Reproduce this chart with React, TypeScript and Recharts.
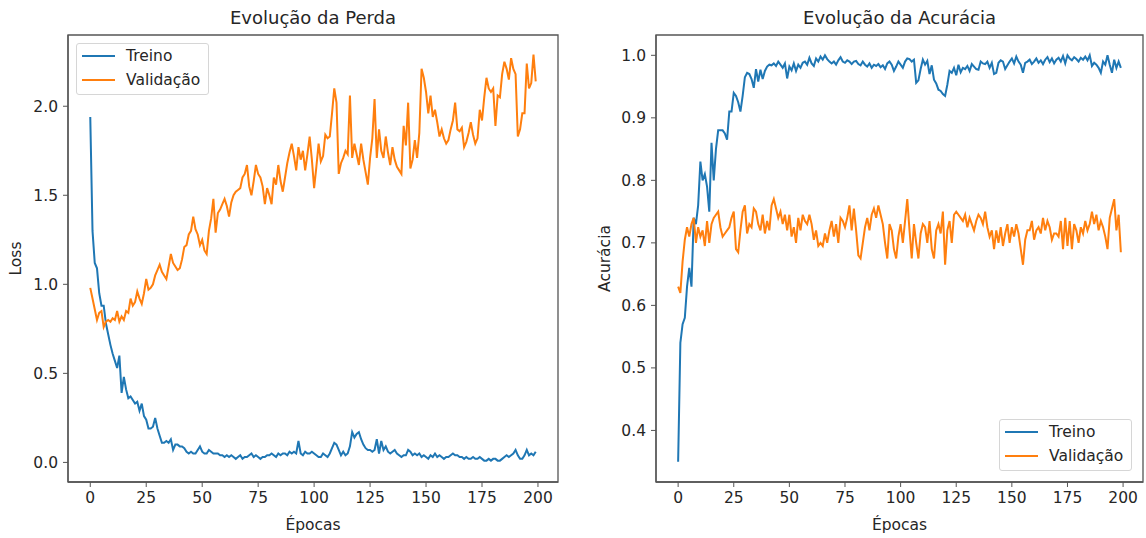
import React from 'react';
import { LineChart, Line, XAxis, YAxis, Legend, ReferenceArea } from 'recharts';

const FONT = '"DejaVu Sans", sans-serif';
const TEXT = '#262626';
const SPINE = '#555555';
const BLUE = '#1f77b4';
const ORANGE = '#ff7f0e';
const FS = 15.5;

const seriesNames = ['Treino', 'Validação'];
const chartTitles = ['Evolução da Perda', 'Evolução da Acurácia'];
const axisLabels = { x: 'Épocas', loss: 'Loss', acc: 'Acurácia' };

const xTicks = [0, 25, 50, 75, 100, 125, 150, 175, 200];
const lossTicks = [0, 0.5, 1.0, 1.5, 2.0];
const accTicks = [0.4, 0.5, 0.6, 0.7, 0.8, 0.9, 1.0];

const lossTrain = [
  1.94, 1.30, 1.12, 1.09, 0.95, 0.88, 0.88, 0.78, 0.72, 0.66,
  0.61, 0.57, 0.53, 0.60, 0.39, 0.48, 0.41, 0.36, 0.37, 0.35,
  0.33, 0.34, 0.29, 0.33, 0.26, 0.24, 0.19, 0.19, 0.20, 0.25,
  0.19, 0.15, 0.11, 0.11, 0.12, 0.11, 0.13, 0.07, 0.10, 0.10,
  0.09, 0.09, 0.08, 0.06, 0.05, 0.06, 0.05, 0.05, 0.07, 0.09,
  0.06, 0.05, 0.05, 0.07, 0.06, 0.05, 0.05, 0.05, 0.04, 0.04,
  0.03, 0.04, 0.03, 0.04, 0.03, 0.02, 0.03, 0.04, 0.02, 0.03,
  0.03, 0.04, 0.05, 0.03, 0.04, 0.03, 0.02, 0.03, 0.03, 0.04,
  0.04, 0.05, 0.04, 0.03, 0.05, 0.04, 0.05, 0.05, 0.04, 0.06,
  0.05, 0.06, 0.05, 0.12, 0.05, 0.04, 0.06, 0.05, 0.05, 0.06,
  0.05, 0.04, 0.03, 0.03, 0.05, 0.04, 0.03, 0.05, 0.08, 0.11,
  0.10, 0.07, 0.04, 0.06, 0.04, 0.05, 0.09, 0.17, 0.14, 0.16,
  0.17, 0.13, 0.10, 0.08, 0.07, 0.07, 0.06, 0.07, 0.13, 0.05,
  0.12, 0.07, 0.09, 0.06, 0.05, 0.06, 0.07, 0.05, 0.04, 0.03,
  0.04, 0.04, 0.07, 0.06, 0.04, 0.05, 0.04, 0.05, 0.03, 0.04,
  0.03, 0.02, 0.04, 0.03, 0.05, 0.03, 0.04, 0.03, 0.02, 0.03,
  0.03, 0.04, 0.05, 0.04, 0.04, 0.03, 0.03, 0.02, 0.03, 0.02,
  0.02, 0.03, 0.02, 0.02, 0.03, 0.02, 0.01, 0.01, 0.02, 0.01,
  0.02, 0.02, 0.01, 0.01, 0.02, 0.03, 0.04, 0.03, 0.04, 0.05,
  0.07, 0.04, 0.02, 0.02, 0.04, 0.07, 0.04, 0.05, 0.04, 0.06,
];

const lossVal = [
  0.98, 0.92, 0.86, 0.80, 0.84, 0.85, 0.76, 0.79, 0.80, 0.79,
  0.81, 0.80, 0.85, 0.79, 0.82, 0.80, 0.85, 0.84, 0.92, 0.88,
  0.90, 0.96, 0.92, 0.89, 0.95, 1.03, 0.97, 0.98, 1.00, 1.05,
  1.08, 1.11, 1.07, 1.05, 1.03, 1.10, 1.17, 1.12, 1.10, 1.08,
  1.09, 1.14, 1.21, 1.22, 1.28, 1.30, 1.38, 1.31, 1.28, 1.22,
  1.25, 1.19, 1.17, 1.30, 1.37, 1.48, 1.29, 1.40, 1.42, 1.45,
  1.48, 1.44, 1.38, 1.46, 1.50, 1.52, 1.53, 1.54, 1.60, 1.62,
  1.67, 1.55, 1.50, 1.58, 1.67, 1.62, 1.60, 1.55, 1.45, 1.54,
  1.50, 1.45, 1.60, 1.56, 1.67, 1.58, 1.52, 1.60, 1.68, 1.74,
  1.79, 1.72, 1.64, 1.77, 1.70, 1.75, 1.64, 1.73, 1.83, 1.70,
  1.54, 1.66, 1.79, 1.69, 1.72, 1.84, 1.82, 1.83, 1.96, 2.10,
  2.02, 1.62, 1.68, 1.71, 1.75, 1.73, 2.06, 1.71, 1.79, 1.73,
  1.67, 1.79, 1.70, 1.63, 1.56, 1.71, 1.82, 2.04, 1.71, 1.87,
  1.75, 1.71, 1.83, 1.74, 1.67, 1.77, 1.70, 1.66, 1.64, 1.62,
  1.89, 1.78, 2.02, 1.65, 1.70, 1.81, 1.71, 1.85, 2.21, 2.16,
  2.08, 1.96, 2.06, 1.94, 1.98, 1.91, 1.83, 1.87, 1.82, 1.79,
  1.81, 1.87, 1.92, 2.02, 1.87, 1.86, 1.88, 1.77, 1.80, 1.85,
  1.91, 1.84, 1.79, 1.82, 1.98, 1.92, 2.05, 2.16, 2.10, 2.08,
  2.10, 1.89, 2.06, 2.05, 2.18, 2.25, 2.21, 2.15, 2.27, 2.21,
  2.18, 1.83, 1.87, 1.96, 1.96, 2.24, 2.10, 2.13, 2.29, 2.14,
];

const accTrain = [
  0.35, 0.54, 0.57, 0.58, 0.63, 0.66, 0.63, 0.74, 0.73, 0.76,
  0.83, 0.80, 0.81, 0.79, 0.75, 0.86, 0.80, 0.85, 0.88, 0.88,
  0.88, 0.875, 0.865, 0.91, 0.91, 0.94, 0.935, 0.925, 0.91, 0.935,
  0.965, 0.972, 0.97, 0.962, 0.948, 0.978, 0.958, 0.977, 0.962, 0.975,
  0.982, 0.985, 0.984, 0.987, 0.983, 0.99, 0.985, 0.98, 0.987, 0.963,
  0.982, 0.976, 0.987, 0.975, 0.985, 0.98, 0.988, 0.99, 0.985, 0.996,
  0.987, 0.983, 0.995, 0.99, 0.998, 0.993, 1.0, 0.994, 0.99, 0.987,
  0.99, 0.985, 0.992, 0.997, 0.99, 0.988, 0.992, 0.99, 0.986, 0.99,
  0.991, 0.986, 0.984, 0.99, 0.985, 0.982, 0.987, 0.98, 0.985, 0.983,
  0.986, 0.981, 0.984, 0.978, 0.987, 0.99, 0.985, 0.975, 0.982, 0.99,
  0.985, 0.98, 0.99, 0.995, 0.994, 0.99, 0.993, 0.956, 0.96, 0.978,
  0.993, 0.985, 0.991, 0.97, 0.984, 0.961, 0.955, 0.945, 0.943, 0.938,
  0.935, 0.953, 0.975, 0.972, 0.98, 0.968, 0.985, 0.973, 0.98, 0.978,
  0.983, 0.975, 0.986, 0.982, 0.978, 0.977, 0.99, 0.987, 0.986, 0.99,
  0.98, 0.988, 0.97, 0.972, 0.988, 0.992, 0.99, 0.978, 0.984, 0.99,
  0.995, 0.987, 0.998, 0.99, 0.985, 0.972, 0.988, 0.99, 0.993, 0.986,
  0.99, 0.995, 0.988, 0.992, 0.986, 0.993, 0.997, 0.989, 0.995, 0.987,
  0.993, 0.996, 0.99, 0.999, 0.987, 1.0, 0.995, 0.992, 0.997, 0.994,
  0.99, 0.996, 0.993, 0.998, 0.992, 1.0, 0.983, 0.988, 0.985, 0.98,
  0.972, 0.99, 0.985, 1.0, 0.985, 0.972, 0.993, 0.98, 0.99, 0.98,
];

const accVal = [
  0.63, 0.62, 0.67, 0.705, 0.725, 0.71, 0.73, 0.74, 0.70, 0.725,
  0.71, 0.72, 0.695, 0.735, 0.70, 0.73, 0.74, 0.745, 0.75, 0.725,
  0.71, 0.715, 0.72, 0.725, 0.74, 0.75, 0.69, 0.685, 0.72, 0.75,
  0.76, 0.715, 0.73, 0.725, 0.755, 0.75, 0.73, 0.72, 0.745, 0.715,
  0.735, 0.72, 0.76, 0.77, 0.755, 0.74, 0.75, 0.73, 0.745, 0.72,
  0.745, 0.71, 0.725, 0.70, 0.74, 0.72, 0.745, 0.735, 0.73, 0.745,
  0.73, 0.705, 0.72, 0.695, 0.70, 0.695, 0.715, 0.70, 0.72, 0.735,
  0.71, 0.73, 0.70, 0.74, 0.735, 0.725, 0.74, 0.76, 0.72, 0.755,
  0.72, 0.68, 0.675, 0.70, 0.725, 0.74, 0.72, 0.745, 0.755, 0.74,
  0.76, 0.745, 0.73, 0.70, 0.675, 0.73, 0.72, 0.69, 0.675, 0.71,
  0.73, 0.70, 0.735, 0.77, 0.72, 0.675, 0.73, 0.70, 0.675, 0.715,
  0.73, 0.725, 0.70, 0.735, 0.69, 0.675, 0.72, 0.73, 0.715, 0.75,
  0.665, 0.72, 0.735, 0.70, 0.745, 0.75, 0.745, 0.74, 0.735, 0.745,
  0.725, 0.74, 0.73, 0.72, 0.735, 0.745, 0.74, 0.73, 0.75, 0.725,
  0.71, 0.72, 0.69, 0.72, 0.70, 0.725, 0.695, 0.715, 0.73, 0.70,
  0.725, 0.71, 0.73, 0.715, 0.69, 0.665, 0.705, 0.72, 0.72, 0.735,
  0.705, 0.72, 0.725, 0.715, 0.74, 0.72, 0.735, 0.725, 0.705, 0.715,
  0.715, 0.71, 0.735, 0.69, 0.74, 0.695, 0.735, 0.69, 0.73, 0.72,
  0.70, 0.725, 0.715, 0.735, 0.72, 0.73, 0.75, 0.73, 0.745, 0.72,
  0.735, 0.725, 0.71, 0.69, 0.74, 0.755, 0.77, 0.72, 0.745, 0.685,
];

const lossData = lossTrain.map((v, i) => ({ epoch: i, treino: v, validacao: lossVal[i] }));
const accData = accTrain.map((v, i) => ({ epoch: i, treino: v, validacao: accVal[i] }));

const X_DOMAIN: [number, number] = [-9.95, 208.95];
const LOSS_DOMAIN: [number, number] = [-0.11, 2.40];
const ACC_DOMAIN: [number, number] = [0.3175, 1.0325];

const tickStyle = { fill: TEXT, fontSize: FS, fontFamily: FONT };
const axisLineStyle = { stroke: SPINE, strokeWidth: 1.3 };
const tickLineStyle = { stroke: SPINE, strokeWidth: 1 };

const MplLegend = (props: any) => {
  const payload = props.payload || [];
  return (
    <div
      style={{
        border: '1px solid #d6d6d6',
        borderRadius: 3,
        background: 'rgba(255,255,255,0.85)',
        padding: '0px 8px 2px 5px',
        fontFamily: FONT,
        fontSize: FS,
        color: TEXT,
        whiteSpace: 'nowrap',
      }}
    >
      {payload.map((p: any) => (
        <div key={p.value} style={{ display: 'flex', alignItems: 'center', height: 24 }}>
          <div style={{ width: 33, height: 2, background: p.color, marginRight: 11 }} />
          <span>{p.value}</span>
        </div>
      ))}
    </div>
  );
};

function Panel(props: {
  data: any[];
  yDomain: [number, number];
  yTicks: number[];
  yLabel: string;
  yAxisWidth: number;
  yLabelOffset: number;
  marginRight: number;
  legendPos: { left: number; top: number };
}) {
  const { data, yDomain, yTicks, yLabel, yAxisWidth, yLabelOffset, marginRight, legendPos } = props;
  return (
    <LineChart
      width={573}
      height={538}
      data={data}
      margin={{ top: 35, right: marginRight, bottom: 0, left: 0 }}
    >
      <XAxis
        dataKey="epoch"
        type="number"
        domain={X_DOMAIN}
        ticks={xTicks}
        allowDataOverflow
        height={56}
        tickSize={5}
        tickMargin={5}
        tick={tickStyle}
        axisLine={axisLineStyle}
        tickLine={tickLineStyle}
        label={{ value: axisLabels.x, position: 'insideBottom', offset: 8, fill: TEXT, fontSize: FS, fontFamily: FONT }}
      />
      <YAxis
        type="number"
        domain={yDomain}
        ticks={yTicks}
        allowDataOverflow
        width={yAxisWidth}
        tickSize={5}
        tickMargin={5}
        tick={tickStyle}
        tickFormatter={(v: number) => v.toFixed(1)}
        axisLine={axisLineStyle}
        tickLine={tickLineStyle}
        label={{
          value: yLabel,
          angle: -90,
          position: 'insideLeft',
          offset: yLabelOffset,
          fill: TEXT,
          fontSize: FS,
          fontFamily: FONT,
          style: { textAnchor: 'middle' },
        }}
      />
      <ReferenceArea
        x1={X_DOMAIN[0]}
        x2={X_DOMAIN[1]}
        y1={yDomain[0]}
        y2={yDomain[1]}
        fill="none"
        fillOpacity={0}
        stroke={SPINE}
        strokeWidth={1.3}
        ifOverflow="visible"
      />
      <Legend
        layout="vertical"
        align="center"
        verticalAlign="middle"
        content={<MplLegend />}
        wrapperStyle={{ left: legendPos.left, top: legendPos.top, width: 'auto' }}
      />
      <Line
        type="linear"
        dataKey="treino"
        name={seriesNames[0]}
        stroke={BLUE}
        strokeWidth={2}
        dot={false}
        activeDot={false}
        isAnimationActive={false}
      />
      <Line
        type="linear"
        dataKey="validacao"
        name={seriesNames[1]}
        stroke={ORANGE}
        strokeWidth={2}
        dot={false}
        activeDot={false}
        isAnimationActive={false}
      />
    </LineChart>
  );
}

export default function App() {
  return (
    <div style={{ position: 'absolute', left: 0, top: 0, width: 1146, height: 538, background: '#ffffff', overflow: 'hidden' }}>
      <div style={{ position: 'absolute', left: 0, top: 0 }}>
        <Panel
          data={lossData}
          yDomain={LOSS_DOMAIN}
          yTicks={lossTicks}
          yLabel={axisLabels.loss}
          yAxisWidth={68}
          yLabelOffset={15}
          marginRight={15}
          legendPos={{ left: 76, top: 43 }}
        />
      </div>
      <div style={{ position: 'absolute', left: 573, top: 0 }}>
        <Panel
          data={accData}
          yDomain={ACC_DOMAIN}
          yTicks={accTicks}
          yLabel={axisLabels.acc}
          yAxisWidth={83}
          yLabelOffset={31}
          marginRight={3}
          legendPos={{ left: 426, top: 419 }}
        />
      </div>
      <svg width={1146} height={538} style={{ position: 'absolute', left: 0, top: 0, pointerEvents: 'none' }}>
        <text x={313} y={24} textAnchor="middle" fontSize={18} fontFamily={FONT} fill={TEXT}>
          {chartTitles[0]}
        </text>
        <text x={899.5} y={24} textAnchor="middle" fontSize={18} fontFamily={FONT} fill={TEXT}>
          {chartTitles[1]}
        </text>
      </svg>
    </div>
  );
}
